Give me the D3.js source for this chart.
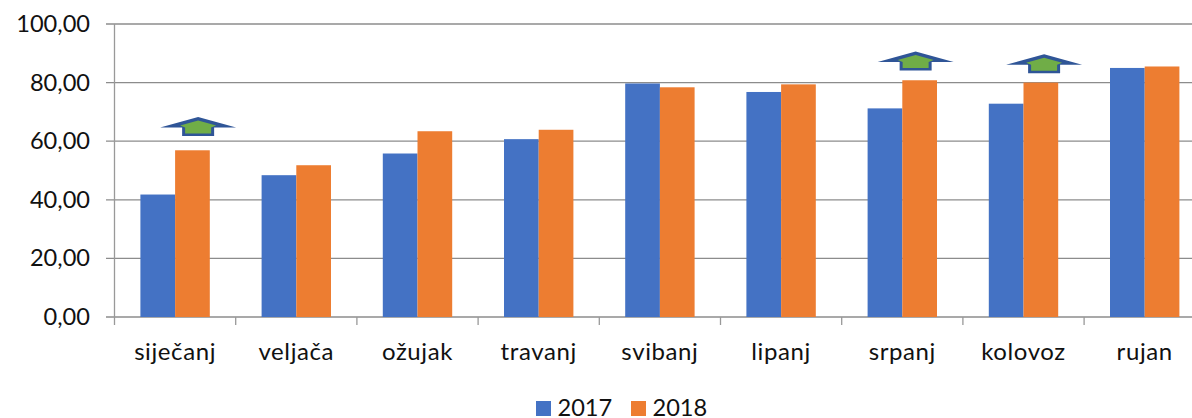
<!DOCTYPE html>
<html><head><meta charset="utf-8">
<script src="https://cdnjs.cloudflare.com/ajax/libs/d3/7.8.5/d3.min.js"></script>
<style>html,body{margin:0;padding:0;background:#fff;overflow:hidden}svg{display:block}text{font-family:Lato,"Open Sans",sans-serif;fill:#111}</style>
</head><body><div id="c"></div>
<script>
const categories=["siječanj","veljača","ožujak","travanj","svibanj","lipanj","srpanj","kolovoz","rujan"];
const values2017=[41.8,48.4,55.8,60.7,79.7,76.8,71.2,72.8,85.0];
const values2018=[56.9,51.8,63.4,63.9,78.4,79.4,80.8,80.0,85.5];
const seriesNames=["2017","2018"];
const yTicks=[0,20,40,60,80,100];
const arrowCategory=["siječanj","srpanj","kolovoz"];
const arrowShift=[0.19,0.11,0.17];
const arrowTip=[68.3,90.6,89.7];
const colors=["#4472c4","#ed7d31"];

const W=1192,H=418,m={l:114.5,t:24,b:317};
const step=121.2;
const svg=d3.select("#c").append("svg").attr("width",W).attr("height",H);
const x=d3.scaleBand().domain(categories).range([m.l,m.l+step*categories.length]);
const y=d3.scaleLinear().domain([0,100]).range([m.b,m.t]);
const barW=34.7;
const fmt=v=>d3.format(".2f")(v).replace(".",",");

svg.append("g").selectAll("line").data(yTicks).join("line")
 .attr("x1",106).attr("x2",W).attr("y1",d=>y(d)).attr("y2",d=>y(d))
 .attr("stroke","#8c8c8c").attr("stroke-width",1.3);
svg.append("line").attr("x1",m.l).attr("x2",m.l).attr("y1",m.t).attr("y2",325).attr("stroke","#999").attr("stroke-width",1.3);
svg.append("g").selectAll("line").data(d3.range(1,categories.length+1)).join("line")
 .attr("x1",i=>m.l+step*i).attr("x2",i=>m.l+step*i).attr("y1",m.b).attr("y2",325)
 .attr("stroke","#999").attr("stroke-width",1.3);

[values2017,values2018].forEach((vals,s)=>{
 svg.append("g").selectAll("rect").data(vals).join("rect")
  .attr("x",(d,i)=>x(categories[i])+x.bandwidth()/2-barW+s*barW)
  .attr("y",d=>y(d)).attr("width",barW).attr("height",d=>y(0)-y(d)).attr("fill",colors[s]);
});

svg.append("g").selectAll("text").data(yTicks).join("text")
 .attr("x",90).attr("y",d=>y(d)+8).attr("text-anchor","end").attr("font-size",23.6).text(fmt);
svg.append("g").selectAll("text").data(categories).join("text")
 .attr("x",d=>x(d)+x.bandwidth()/2).attr("y",360).attr("text-anchor","middle").attr("font-size",24)
 .attr("letter-spacing",0.6).text(d=>d);

const arrow=d3.line();
arrowCategory.forEach((c,i)=>{
 const cx=x(c)+x.bandwidth()/2+arrowShift[i]*step, ty=y(arrowTip[i]);
 const pts=[[0,0],[38,10.5],[16,10.5],[16,19],[-16,19],[-16,10.5],[-38,10.5]].map(p=>[cx+p[0],ty+p[1]]);
 svg.append("path").attr("d",arrow(pts)+"Z").attr("fill","#2f5597");
 const inner=[[0,3.5],[18,8.5],[13,10.5],[13,16.5],[-13,16.5],[-13,10.5],[-18,8.5]].map(p=>[cx+p[0],ty+p[1]]);
 svg.append("path").attr("d",arrow(inner)+"Z").attr("fill","#70ad47");
});

const lx=d3.scaleOrdinal().domain(seriesNames).range([536,631]);
const lg=svg.append("g").selectAll("g").data(seriesNames).join("g");
lg.append("rect").attr("x",d=>lx(d)).attr("y",401).attr("width",15).attr("height",15).attr("fill",(d,i)=>colors[i]);
lg.append("text").attr("x",d=>lx(d)+21.5).attr("y",416).attr("font-size",23.6).text(d=>d);
</script></body></html>
